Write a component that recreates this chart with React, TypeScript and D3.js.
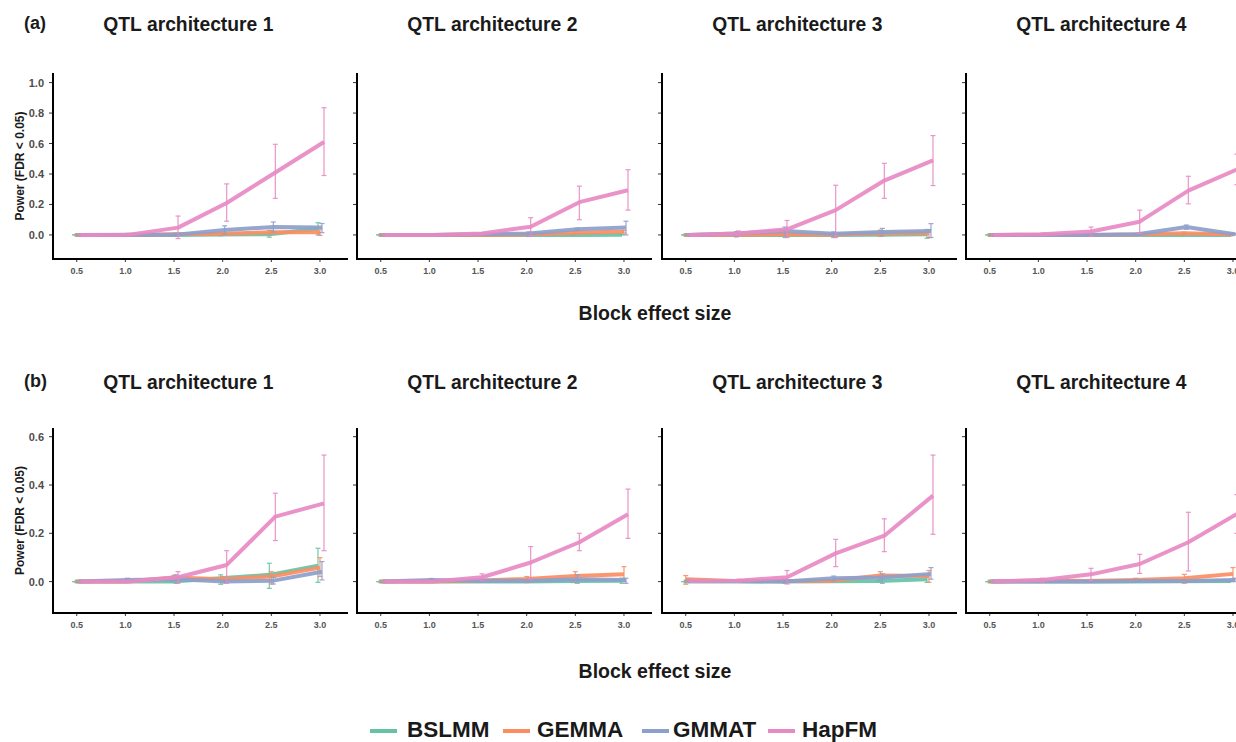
import React from "react";
import * as d3 from "d3";

// ---------- data ----------
const effectSizes = [0.5, 1.0, 1.5, 2.0, 2.5, 3.0];
const xTickLabels = ["0.5", "1.0", "1.5", "2.0", "2.5", "3.0"];
const methods = ["BSLMM", "GEMMA", "GMMAT", "HapFM"];
const methodColors = ["#66c2a5", "#fc8d62", "#8da0cb", "#e78ac3"];
const panelTitles = ["QTL architecture 1", "QTL architecture 2", "QTL architecture 3", "QTL architecture 4"];
const rowLabels = ["(a)", "(b)"];
const yTicksA = [0, 0.2, 0.4, 0.6, 0.8, 1.0];
const yTicksB = [0, 0.2, 0.4, 0.6];

// each point: [mean, low, high]
// Row (a)
const A1_BSLMM = [[0, 0, 0], [0, 0, 0], [0, -0.005, 0.005], [0.003, -0.005, 0.01], [0.005, -0.015, 0.03], [0.04, 0.0, 0.08]];
const A1_GEMMA = [[0, 0, 0], [0, 0, 0], [0.005, 0, 0.01], [0.008, 0, 0.015], [0.018, 0.005, 0.03], [0.018, -0.003, 0.04]];
const A1_GMMAT = [[0, 0, 0], [0.002, -0.005, 0.01], [0.002, -0.005, 0.01], [0.033, 0.005, 0.06], [0.052, 0.02, 0.085], [0.048, 0.015, 0.075]];
const A1_HapFM = [[0, 0, 0], [0.002, 0, 0.005], [0.048, -0.024, 0.124], [0.21, 0.09, 0.335], [0.41, 0.24, 0.595], [0.61, 0.39, 0.835]];

const A2_BSLMM = [[0, 0, 0], [0, 0, 0], [0, 0, 0], [0, 0, 0], [0, 0, 0], [0.002, 0, 0.005]];
const A2_GEMMA = [[0, 0, 0], [0, 0, 0], [0, 0, 0], [0.003, 0, 0.006], [0.015, 0.008, 0.022], [0.022, 0.012, 0.03]];
const A2_GMMAT = [[0, 0, 0], [0, 0, 0], [0.005, 0, 0.01], [0.01, -0.01, 0.02], [0.037, 0.03, 0.045], [0.048, 0.0, 0.09]];
const A2_HapFM = [[0, 0, 0], [0, 0, 0], [0.01, 0.005, 0.015], [0.054, -0.007, 0.113], [0.215, 0.1, 0.32], [0.293, 0.163, 0.428]];

const A3_BSLMM = [[0, 0, 0], [0, 0, 0], [0, 0, 0], [0, 0, 0], [0.002, 0, 0.005], [0.004, -0.022, 0.036]];
const A3_GEMMA = [[0, 0, 0], [0.002, 0, 0.005], [0.004, 0, 0.008], [0.002, 0, 0.005], [0.011, -0.01, 0.032], [0.011, -0.017, 0.033]];
const A3_GMMAT = [[0, 0, 0], [0.009, -0.013, 0.022], [0.026, -0.017, 0.052], [0.007, -0.017, 0.02], [0.02, -0.006, 0.043], [0.026, -0.017, 0.074]];
const A3_HapFM = [[0, 0, 0], [0.01, -0.006, 0.026], [0.037, -0.017, 0.095], [0.163, -0.017, 0.326], [0.357, 0.24, 0.47], [0.489, 0.324, 0.652]];

const A4_BSLMM = [[0, 0, 0], [0, 0, 0], [0, 0, 0], [0, 0, 0], [0, 0, 0], [0, 0, 0]];
const A4_GEMMA = [[0, 0, 0], [0, 0, 0], [0, 0, 0], [0.003, 0, 0.006], [0.011, 0.005, 0.017], [0.003, 0, 0.006]];
const A4_GMMAT = [[0, 0, 0], [0, 0, 0], [0, 0, 0], [0.005, 0, 0.01], [0.052, 0.037, 0.065], [0.005, 0, 0.01]];
const A4_HapFM = [[0, 0, 0], [0.005, -0.003, 0.012], [0.022, -0.007, 0.052], [0.087, 0.01, 0.163], [0.291, 0.204, 0.385], [0.43, 0.33, 0.53]];

// Row (b)
const B1_BSLMM = [[0, 0, 0], [0, 0, 0], [0, -0.003, 0.003], [0.014, -0.011, 0.028], [0.028, -0.028, 0.076], [0.066, -0.003, 0.138]];
const B1_GEMMA = [[0, 0, 0], [0, 0, 0], [0.017, 0.003, 0.026], [0.01, -0.004, 0.021], [0.021, -0.01, 0.041], [0.058, 0.021, 0.099]];
const B1_GMMAT = [[0, 0, 0], [0.007, -0.003, 0.014], [0.01, -0.007, 0.028], [0.0, -0.005, 0.005], [0.004, -0.01, 0.018], [0.041, 0.007, 0.083]];
const B1_HapFM = [[0, 0, 0], [0, 0, 0], [0.018, -0.007, 0.041], [0.069, -0.007, 0.128], [0.269, 0.17, 0.366], [0.324, 0.128, 0.524]];

const B2_BSLMM = [[0, 0, 0], [0, 0, 0], [0, 0, 0], [0, 0, 0], [0.002, -0.004, 0.004], [0.004, -0.007, 0.014]];
const B2_GEMMA = [[0, 0, 0], [0, 0, 0], [0.005, 0, 0.01], [0.011, -0.004, 0.021], [0.023, 0, 0.041], [0.03, 0, 0.062]];
const B2_GMMAT = [[0, 0, 0], [0.007, -0.001, 0.013], [0.004, 0, 0.008], [0.004, 0, 0.008], [0.01, -0.007, 0.028], [0.007, -0.007, 0.014]];
const B2_HapFM = [[0, 0, 0], [0, 0, 0], [0.018, 0.004, 0.032], [0.079, 0.01, 0.145], [0.163, 0.128, 0.2], [0.279, 0.179, 0.383]];

const B3_BSLMM = [[0, 0, 0], [0, 0, 0], [0, 0, 0], [0.001, 0, 0.003], [0.002, 0, 0.005], [0.01, -0.003, 0.021]];
const B3_GEMMA = [[0.01, -0.011, 0.025], [0.003, 0, 0.006], [0.002, 0, 0.005], [0.004, 0, 0.008], [0.025, 0.01, 0.041], [0.023, -0.003, 0.046]];
const B3_GMMAT = [[0.003, 0, 0.006], [0.002, 0, 0.005], [0.0, -0.007, 0.007], [0.014, 0.004, 0.023], [0.017, -0.007, 0.032], [0.032, 0.01, 0.058]];
const B3_HapFM = [[0.003, 0, 0.006], [0.004, -0.003, 0.01], [0.018, -0.01, 0.046], [0.117, 0.062, 0.175], [0.19, 0.124, 0.26], [0.356, 0.196, 0.524]];

const B4_BSLMM = [[0, 0, 0], [0, 0, 0], [0, 0, 0], [0, 0, 0], [0.001, -0.002, 0.003], [0.003, 0, 0.006]];
const B4_GEMMA = [[0, 0, 0], [0.005, -0.003, 0.012], [0.002, 0, 0.004], [0.007, -0.003, 0.014], [0.014, -0.007, 0.03], [0.032, 0.01, 0.058]];
const B4_GMMAT = [[0, 0, 0], [0, 0, 0], [0, 0, 0], [0.002, 0, 0.004], [0.003, 0, 0.006], [0.007, 0, 0.014]];
const B4_HapFM = [[0, 0, 0], [0.007, -0.002, 0.014], [0.03, 0.004, 0.055], [0.073, 0.034, 0.113], [0.163, 0.044, 0.287], [0.28, 0.2, 0.36]];

const rowA = [
  [A1_BSLMM, A1_GEMMA, A1_GMMAT, A1_HapFM],
  [A2_BSLMM, A2_GEMMA, A2_GMMAT, A2_HapFM],
  [A3_BSLMM, A3_GEMMA, A3_GMMAT, A3_HapFM],
  [A4_BSLMM, A4_GEMMA, A4_GMMAT, A4_HapFM],
];
const rowB = [
  [B1_BSLMM, B1_GEMMA, B1_GMMAT, B1_HapFM],
  [B2_BSLMM, B2_GEMMA, B2_GMMAT, B2_HapFM],
  [B3_BSLMM, B3_GEMMA, B3_GMMAT, B3_HapFM],
  [B4_BSLMM, B4_GEMMA, B4_GMMAT, B4_HapFM],
];

// ---------- layout ----------
const W = 1236;
const H = 742;
const FONT = "'Liberation Sans', Arial, Helvetica, sans-serif";
const panelLefts = [53, 357, 662, 966];
const plotW = 295;
const dodge = [-2, 0, 2, 4];

type RowCfg = {
  label: string;
  data: number[][][][];
  top: number;
  bottom: number;
  domain: [number, number];
  ticks: number[];
  titleY: number;
  xTitleY: number;
};

const rows: RowCfg[] = [
  { label: rowLabels[0], data: rowA, top: 73, bottom: 259, domain: [-0.158, 1.063], ticks: yTicksA, titleY: 31, xTitleY: 320 },
  { label: rowLabels[1], data: rowB, top: 428, bottom: 613, domain: [-0.13, 0.636], ticks: yTicksB, titleY: 389, xTitleY: 678 },
];

function Panel({ row, pi }: { row: RowCfg; pi: number }) {
  const left = panelLefts[pi];
  const x = d3.scaleLinear().domain([0.256, 3.288]).range([left, left + plotW]);
  const y = d3.scaleLinear().domain(row.domain).range([row.bottom, row.top]);
  const line = d3
    .line<number[]>()
    .x((d, i) => x(effectSizes[i]))
    .y((d) => y(d[0]));
  const series = row.data[pi];
  return (
    <g>
      <text x={x(1.75) - 10} y={row.titleY} textAnchor="middle" fontFamily={FONT} fontWeight="bold" fontSize={19.3} fill="#1a1a1a">
        {panelTitles[pi]}
      </text>
      {/* y ticks */}
      {row.ticks.map((t) => (
        <g key={t}>
          <line x1={left - 4} x2={left} y1={y(t)} y2={y(t)} stroke="#333" strokeWidth={1} />
          {pi === 0 && (
            <text x={left - 9} y={y(t) + 4} textAnchor="end" fontFamily={FONT} fontWeight="bold" fontSize={11} fill="#4d4d4d">
              {d3.format(".1f")(t)}
            </text>
          )}
        </g>
      ))}
      {/* x ticks */}
      {effectSizes.map((v, i) => (
        <g key={v}>
          <line x1={x(v)} x2={x(v)} y1={row.bottom} y2={row.bottom + 3} stroke="#333" strokeWidth={1} />
          <text x={x(v)} y={row.bottom + 15} textAnchor="middle" fontFamily={FONT} fontWeight="bold" fontSize={9} fill="#555">
            {xTickLabels[i]}
          </text>
        </g>
      ))}
      {/* series */}
      {series.map((s, si) => (
        <g key={si} transform={`translate(${dodge[si]},0)`}>
          <path d={line(s) || ""} fill="none" stroke={methodColors[si]} strokeWidth={4} strokeLinejoin="round" strokeLinecap="butt" opacity={0.92} />
          {s.map((p, i) => {
            const cx = x(effectSizes[i]);
            return (
              <g key={i} stroke={methodColors[si]} strokeWidth={1.2} opacity={0.9}>
                <line x1={cx} x2={cx} y1={y(p[1])} y2={y(p[2])} />
                <line x1={cx - 2.5} x2={cx + 2.5} y1={y(p[1])} y2={y(p[1])} />
                <line x1={cx - 2.5} x2={cx + 2.5} y1={y(p[2])} y2={y(p[2])} />
              </g>
            );
          })}
        </g>
      ))}
      {/* axes */}
      <line x1={left} x2={left} y1={row.top} y2={row.bottom} stroke="#000" strokeWidth={2} />
      <line x1={left - 1} x2={left + plotW} y1={row.bottom} y2={row.bottom} stroke="#000" strokeWidth={2} />
    </g>
  );
}

export default function App() {
  const legendLineX = [370, 503, 642, 768];
  const legendTextX = [407, 537, 673, 802];
  return (
    <svg width={W} height={H} style={{ position: "absolute", left: 0, top: 0, background: "#fff" }}>
      <rect x={0} y={0} width={W} height={H} fill="#fff" />
      {rows.map((row, ri) => (
        <g key={ri}>
          <text x={24} y={row.titleY - 2} fontFamily={FONT} fontWeight="bold" fontSize={18} fill="#1a1a1a">
            {row.label}
          </text>
          <text
            transform={`translate(24,${(row.top + row.bottom) / 2}) rotate(-90)`}
            textAnchor="middle"
            fontFamily={FONT}
            fontWeight="bold"
            fontSize={12}
            fill="#1a1a1a"
          >
            Power (FDR &lt; 0.05)
          </text>
          {panelLefts.map((_, pi) => (
            <Panel key={pi} row={row} pi={pi} />
          ))}
          <text x={655} y={row.xTitleY} textAnchor="middle" fontFamily={FONT} fontWeight="bold" fontSize={19.5} fill="#1a1a1a">
            Block effect size
          </text>
        </g>
      ))}
      {/* legend */}
      {methods.map((m, i) => (
        <g key={m}>
          <line x1={legendLineX[i]} x2={legendLineX[i] + 27} y1={731} y2={731} stroke={methodColors[i]} strokeWidth={4} />
          <text x={legendTextX[i]} y={737} fontFamily={FONT} fontWeight="bold" fontSize={22.5} fill="#1a1a1a">
            {m}
          </text>
        </g>
      ))}
    </svg>
  );
}
